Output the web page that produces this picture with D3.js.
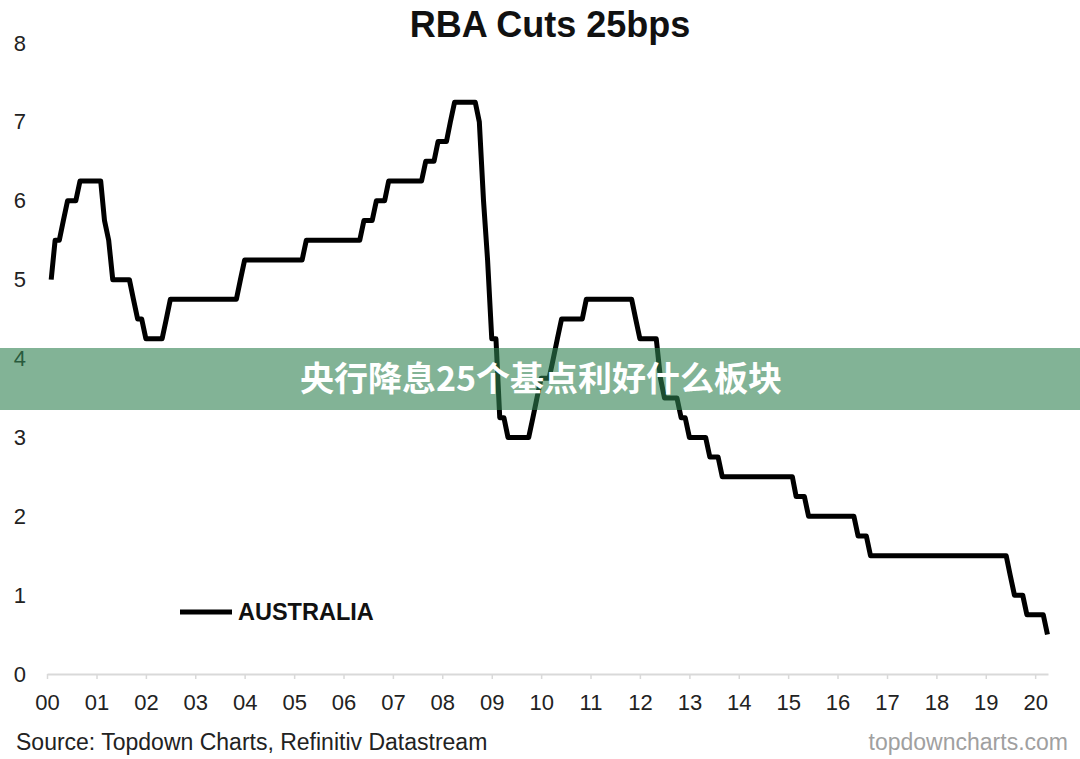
<!DOCTYPE html>
<html>
<head>
<meta charset="utf-8">
<script src="https://cdn.jsdelivr.net/npm/d3@7"></script>
<style>
  body { margin: 0; background: #fff; }
  svg { display: block; font-family: "Liberation Sans", Arial, sans-serif; }
</style>
</head>
<body>
<svg width="1080" height="759"></svg>
<script>
// RBA cash rate, month-end values where the line turns (flat stretches in between)
let rateMonths = [
    "2000-01", "2000-02", "2000-03", "2000-04", "2000-05", "2000-07", "2000-08",
    "2001-01", "2001-02", "2001-03", "2001-04", "2001-08", "2001-09", "2001-10", "2001-11", "2001-12",
    "2002-04", "2002-05", "2002-06",
    "2003-10", "2003-11", "2003-12",
    "2005-02", "2005-03",
    "2006-04", "2006-05", "2006-07", "2006-08", "2006-10", "2006-11",
    "2007-07", "2007-08", "2007-10", "2007-11",
    "2008-01", "2008-02", "2008-03", "2008-08", "2008-09", "2008-10", "2008-11", "2008-12",
    "2009-01", "2009-02", "2009-03", "2009-04", "2009-09", "2009-10", "2009-11", "2009-12",
    "2010-02", "2010-03", "2010-04", "2010-05", "2010-10", "2010-11",
    "2011-10", "2011-11", "2011-12",
    "2012-04", "2012-05", "2012-06", "2012-09", "2012-10", "2012-11", "2012-12",
    "2013-04", "2013-05", "2013-07", "2013-08",
    "2015-01", "2015-02", "2015-04", "2015-05",
    "2016-04", "2016-05", "2016-07", "2016-08",
    "2019-05", "2019-06", "2019-07", "2019-09", "2019-10",
    "2020-02", "2020-03"
]

let rateValues = [
    5.00, 5.50, 5.50, 5.75, 6.00, 6.00, 6.25,
    6.25, 5.75, 5.50, 5.00, 5.00, 4.75, 4.50, 4.50, 4.25,
    4.25, 4.50, 4.75,
    4.75, 5.00, 5.25,
    5.25, 5.50,
    5.50, 5.75, 5.75, 6.00, 6.00, 6.25,
    6.25, 6.50, 6.50, 6.75,
    6.75, 7.00, 7.25, 7.25, 7.00, 6.00, 5.25, 4.25,
    4.25, 3.25, 3.25, 3.00, 3.00, 3.25, 3.50, 3.75,
    3.75, 4.00, 4.25, 4.50, 4.50, 4.75,
    4.75, 4.50, 4.25,
    4.25, 3.75, 3.50, 3.50, 3.25, 3.25, 3.00,
    3.00, 2.75, 2.75, 2.50,
    2.50, 2.25, 2.25, 2.00,
    2.00, 1.75, 1.75, 1.50,
    1.50, 1.25, 1.00, 1.00, 0.75,
    0.75, 0.50
]

let yTicks = [0, 1, 2, 3, 4, 5, 6, 7, 8]

const svg = d3.select("svg")
const parseMonth = d3.timeParse("%Y-%m")

// plot each monthly value at the end of its month
const points = rateMonths.map((m, i) => {
    return { date: d3.timeMonth.offset(parseMonth(m), 1), value: rateValues[i] }
})

const x = d3.scaleTime()
    .domain([new Date(2000, 0, 1), new Date(2020, 3, 5)])
    .range([47, 1048])

const y = d3.scaleLinear()
    .domain([0, 8])
    .range([674, 43])

// x axis
const xAxis = svg.append("g")
    .attr("transform", "translate(0," + y(0) + ")")
    .call(d3.axisBottom(x)
        .ticks(d3.timeYear.every(1))
        .tickFormat(d3.timeFormat("%y"))
        .tickSize(5)
        .tickSizeOuter(0)
        .tickPadding(15))

xAxis.select(".domain").attr("stroke", "#d9d9d9").attr("stroke-width", 2)
xAxis.selectAll(".tick line").attr("stroke", "#d9d9d9").attr("stroke-width", 1.5)
xAxis.selectAll(".tick text")
    .attr("font-size", 22)
    .attr("font-family", "Liberation Sans, Arial, sans-serif")
    .attr("fill", "#222")

// y axis, labels only
const yAxis = svg.append("g")
    .attr("transform", "translate(29,0)")
    .call(d3.axisLeft(y)
        .tickValues(yTicks)
        .tickFormat(d3.format("d"))
        .tickSize(0)
        .tickPadding(3))

yAxis.select(".domain").remove()
yAxis.selectAll(".tick text")
    .attr("font-size", 22)
    .attr("font-family", "Liberation Sans, Arial, sans-serif")
    .attr("fill", "#222")

// the series
const line = d3.line()
    .x(d => x(d.date))
    .y(d => y(d.value))

svg.append("path")
    .datum(points)
    .attr("d", line)
    .attr("fill", "none")
    .attr("stroke", "#000")
    .attr("stroke-width", 5)
    .attr("stroke-linejoin", "round")

// title
svg.append("text")
    .attr("x", 550)
    .attr("y", 37)
    .attr("text-anchor", "middle")
    .attr("font-size", 36)
    .attr("font-weight", "bold")
    .attr("fill", "#111")
    .text("RBA Cuts 25bps")

// legend
svg.append("line")
    .attr("x1", 180)
    .attr("x2", 232)
    .attr("y1", 612)
    .attr("y2", 612)
    .attr("stroke", "#000")
    .attr("stroke-width", 5)

svg.append("text")
    .attr("x", 238)
    .attr("y", 620)
    .attr("font-size", 23.5)
    .attr("font-weight", "bold")
    .attr("fill", "#111")
    .text("AUSTRALIA")

// footer
svg.append("text")
    .attr("x", 16)
    .attr("y", 750)
    .attr("font-size", 23)
    .attr("fill", "#222")
    .text("Source: Topdown Charts, Refinitiv Datastream")

svg.append("text")
    .attr("x", 1068)
    .attr("y", 750)
    .attr("text-anchor", "end")
    .attr("font-size", 23)
    .attr("fill", "#a0a0a0")
    .text("topdowncharts.com")

// green banner laid over the chart
svg.append("rect")
    .attr("x", 0)
    .attr("y", 348)
    .attr("width", 1080)
    .attr("height", 62)
    .attr("fill", "#2e8050")
    .attr("fill-opacity", 0.6)

svg.append("text")
    .attr("x", 541)
    .attr("y", 391)
    .attr("text-anchor", "middle")
    .attr("font-family", "Noto Sans CJK SC, sans-serif")
    .attr("font-size", 34)
    .attr("font-weight", "bold")
    .attr("fill", "#fff")
    .attr("textLength", 482)
    .attr("lengthAdjust", "spacing")
    .text("央行降息25个基点利好什么板块")
</script>
</body>
</html>
